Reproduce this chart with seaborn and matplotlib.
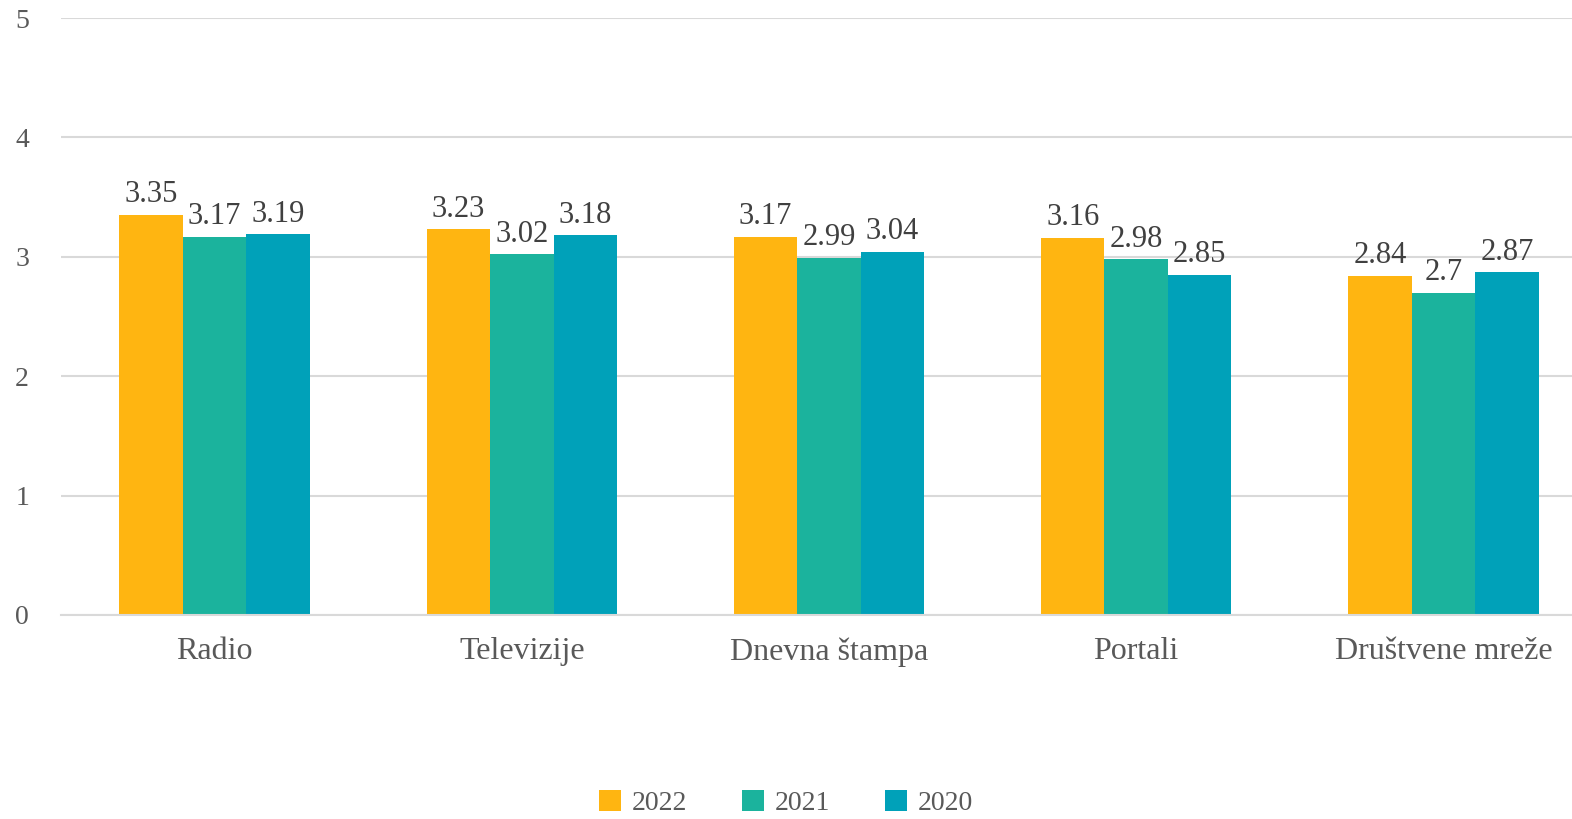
import matplotlib
matplotlib.use("Agg")
import matplotlib.pyplot as plt
import seaborn as sns
import pandas as pd

# Data
categories = ["Radio", "Televizije", "Dnevna štampa", "Portali", "Društvene mreže"]
years = ["2022", "2021", "2020"]
values_2022 = [3.35, 3.23, 3.17, 3.16, 2.84]
values_2021 = [3.17, 3.02, 2.99, 2.98, 2.7]
values_2020 = [3.19, 3.18, 3.04, 2.85, 2.87]
colors = ["#FFB511", "#1BB39D", "#00A1B9"]

df = pd.DataFrame({
    "kategorija": categories * 3,
    "godina": [y for y in years for _ in categories],
    "vrijednost": values_2022 + values_2021 + values_2020,
})

sns.set_theme(style="white")
plt.rcParams["font.family"] = ["Liberation Serif", "DejaVu Serif"]

fig = plt.figure(figsize=(15.72, 8.19), dpi=100)
ax = fig.add_axes([61 / 1572, 1 - 615 / 819, 1536 / 1572, 597 / 819])

sns.barplot(data=df, x="kategorija", y="vrijednost", hue="godina",
            hue_order=years, palette=colors, width=0.62, gap=0,
            saturation=1, ax=ax, legend=True, edgecolor="none")

for cont in ax.containers:
    labels = [f"{v:g}" for v in cont.datavalues]
    ax.bar_label(cont, labels=labels, padding=4, fontsize=22, color="#404040")

ax.set_ylim(0, 5)
ax.set_yticks(range(0, 6))
ax.set_xlim(-0.5, 4.5)
ax.yaxis.grid(True, color="#D9D9D9", linewidth=1.5)
ax.set_axisbelow(True)
ax.set_xlabel("")
ax.set_ylabel("")
ax.tick_params(axis="y", length=0, pad=33, labelsize=20, labelcolor="#595959")
ax.tick_params(axis="x", length=0, pad=16, labelsize=23, labelcolor="#595959")
for lab in ax.get_yticklabels():
    lab.set_horizontalalignment("left")
for s in ["left", "right", "top"]:
    ax.spines[s].set_visible(False)
ax.spines["bottom"].set_color("#D9D9D9")
ax.spines["bottom"].set_linewidth(1.5)

handles, lbls = ax.get_legend_handles_labels()
ax.get_legend().remove()
fig.legend(handles, lbls, loc="center", bbox_to_anchor=(0.5, 1 - 803 / 819),
           ncol=3, frameon=False, fontsize=20, handlelength=0.8, handleheight=0.8,
           columnspacing=1.95, handletextpad=0.4, labelcolor="#595959")

fig.savefig("out.png", dpi=100)
